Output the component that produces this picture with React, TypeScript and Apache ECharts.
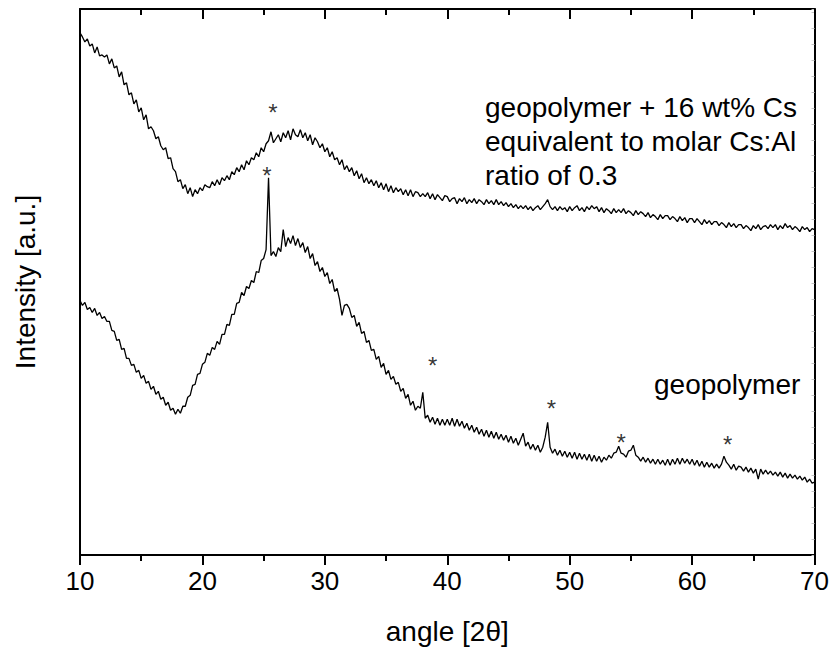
import React, { useEffect, useRef } from "react";
import * as echarts from "echarts";

// XRD scans sampled on a regular 2θ grid
const angleStart = 10;
const angleStep = 0.2;
const xMin = 10;
const xMax = 70;
const xInterval = 10;

// geopolymer + 16 wt% Cs (upper trace)
const cesiumIntensity = [
  523, 519, 514, 517, 510, 512, 503, 509, 500, 501,
  499, 501, 492, 497, 488, 490, 479, 484, 471, 473,
  461, 463, 452, 456, 444, 448, 436, 441, 427, 429,
  425, 417, 419, 410, 406, 408, 397, 398, 387, 384,
  374, 376, 367, 371, 362, 368, 359, 366, 362, 368,
  365, 371, 369, 368, 374, 370, 376, 371, 378, 375,
  380, 376, 384, 381, 388, 384, 391, 386, 395, 391,
  398, 396, 403, 399, 408, 404, 412, 415, 424, 413,
  417, 421, 414, 423, 418, 425, 416, 427, 421, 419,
  426, 418, 423, 415, 421, 411, 418, 414, 408, 412,
  404, 408, 399, 404, 396, 398, 391, 396, 386, 390,
  384, 388, 380, 385, 377, 382, 373, 378, 372, 376,
  370, 375, 368, 373, 366, 372, 364, 370, 363, 368,
  364, 367, 361, 366, 360, 366, 359, 364, 363, 359,
  362, 359, 363, 357, 362, 356, 361, 358, 355, 360,
  359, 354, 357, 358, 352, 357, 354, 358, 352, 356,
  353, 357, 352, 356, 354, 351, 356, 352, 355, 351,
  356, 351, 354, 350, 353, 349, 352, 348, 351, 347,
  350, 347, 350, 346, 349, 345, 348, 350, 346, 349,
  352, 356, 349, 346, 349, 345, 349, 346, 348, 344,
  349, 345, 348, 350, 345, 348, 344, 349, 346, 350,
  347, 349, 344, 348, 343, 347, 345, 342, 347, 343,
  346, 343, 347, 342, 345, 343, 340, 345, 341, 344,
  342, 339, 343, 338, 341, 339, 336, 341, 337, 340,
  340, 336, 339, 337, 334, 339, 335, 338, 333, 337,
  337, 333, 337, 334, 331, 336, 332, 335, 331, 334,
  334, 330, 333, 331, 328, 333, 329, 332, 328, 331,
  331, 327, 330, 328, 325, 330, 327, 331, 326, 329,
  330, 327, 331, 328, 331, 326, 330, 327, 332, 328,
  330, 326, 329, 327, 324, 329, 326, 328, 324, 327,
  326,
];

// plain geopolymer (lower trace)
const plainIntensity = [
  255, 250, 253, 246, 248, 243, 247, 240, 243, 237,
  239, 234, 234, 225, 224, 215, 216, 206, 207, 197,
  197, 190, 191, 183, 185, 177, 180, 172, 174, 166,
  169, 161, 164, 156, 158, 150, 153, 145, 147, 141,
  146, 142, 149, 149, 158, 160, 170, 171, 181, 182,
  191, 193, 202, 200, 208, 206, 214, 211, 221, 221,
  231, 230, 241, 241, 252, 253, 263, 260, 269, 267,
  275, 273, 284, 283, 295, 297, 306, 378, 300, 304,
  299, 308, 304, 326, 309, 318, 312, 320, 310, 317,
  308, 313, 303, 309, 297, 302, 290, 294, 284, 288,
  279, 283, 272, 276, 264, 267, 256, 240, 250, 251,
  247, 238, 240, 229, 233, 222, 224, 213, 215, 205,
  206, 196, 199, 188, 192, 181, 185, 176, 179, 171,
  173, 164, 167, 157, 161, 150, 154, 145, 149, 147,
  163, 137, 140, 133, 138, 131, 137, 130, 136, 130,
  136, 130, 137, 129, 136, 129, 134, 127, 132, 125,
  130, 123, 128, 121, 126, 119, 125, 118, 124, 117,
  123, 116, 121, 115, 120, 113, 119, 112, 117, 110,
  116, 122, 109, 113, 106, 111, 105, 110, 103, 108,
  118, 133, 108, 102, 106, 100, 105, 99, 104, 98,
  103, 97, 103, 96, 102, 96, 101, 95, 101, 94,
  100, 94, 99, 93, 98, 95, 100, 97, 102, 103,
  109, 102, 101, 98, 104, 105, 110, 100, 98, 94,
  98, 93, 97, 92, 96, 91, 96, 91, 95, 90,
  96, 90, 96, 91, 97, 91, 97, 92, 96, 91,
  96, 90, 95, 89, 94, 88, 93, 88, 92, 87,
  91, 87, 91, 99, 93, 90, 86, 91, 85, 89,
  88, 84, 88, 83, 87, 82, 86, 76, 86, 81,
  85, 81, 84, 80, 83, 79, 83, 78, 82, 77,
  81, 77, 80, 76, 79, 75, 78, 73, 76, 72,
  73,
];

// asterisks marking crystalline reflections: [angle, intensity]
const peakMarks: [number, number][] = [
  [25.76, 449],
  [25.27, 386],
  [38.8, 196],
  [48.5, 153],
  [54.2, 119],
  [62.9, 117],
];

const cesiumLabel = ["geopolymer + 16 wt% Cs", "equivalent to molar Cs:Al", "ratio of 0.3"];
const plainLabel = "geopolymer";
const xAxisTitle = "angle [2θ]";
const yAxisTitle = "Intensity [a.u.]";

const FONT = "'Liberation Sans', Arial, Helvetica, sans-serif";

function toPairs(values: number[]) {
  return values.map((v, i) => [Math.round((angleStart + i * angleStep) * 10) / 10, v]);
}

export default function App() {
  const ref = useRef<HTMLDivElement>(null);

  useEffect(() => {
    document.body.style.margin = "0";
    if (!ref.current) return;
    const chart = echarts.init(ref.current, undefined, { renderer: "svg" });
    const black = "#000";
    chart.setOption({
      animation: false,
      backgroundColor: "#fff",
      textStyle: { fontFamily: FONT, color: black },
      grid: { left: 80, top: 9, right: 17, bottom: 94, containLabel: false },
      xAxis: [
        {
          type: "value",
          position: "bottom",
          min: xMin,
          max: xMax,
          interval: xInterval,
          axisLine: { show: true, onZero: false, lineStyle: { color: black, width: 2 } },
          axisTick: { show: true, inside: false, length: 10, lineStyle: { color: black, width: 2 } },
          minorTick: { show: true, splitNumber: 2, length: 6, lineStyle: { color: black, width: 2 } },
          axisLabel: { fontSize: 26, color: black, margin: 13, fontFamily: FONT },
          splitLine: { show: false },
          name: xAxisTitle,
          nameLocation: "middle",
          nameGap: 62,
          nameTextStyle: { fontSize: 28, color: black, fontFamily: FONT },
        },
        {
          type: "value",
          position: "top",
          min: xMin,
          max: xMax,
          interval: xInterval,
          axisLine: { show: true, onZero: false, lineStyle: { color: black, width: 2 } },
          axisTick: { show: true, inside: true, length: 10, lineStyle: { color: black, width: 2 } },
          minorTick: { show: true, splitNumber: 2, length: 6, lineStyle: { color: black, width: 2 } },
          axisLabel: { show: false },
          splitLine: { show: false },
        },
      ],
      yAxis: [
        {
          type: "value",
          position: "left",
          min: 0,
          max: 547,
          axisLine: { show: true, onZero: false, lineStyle: { color: black, width: 2 } },
          axisTick: { show: false },
          axisLabel: { show: false },
          splitLine: { show: false },
          name: yAxisTitle,
          nameLocation: "middle",
          nameGap: 41,
          nameTextStyle: { fontSize: 28, color: black, fontFamily: FONT },
        },
        {
          type: "value",
          position: "right",
          min: 0,
          max: 547,
          interval: 16,
          axisLine: { show: true, onZero: false, lineStyle: { color: black, width: 2 } },
          axisTick: { show: true, inside: true, length: 3, lineStyle: { color: "#c4c4c4", width: 1 } },
          axisLabel: { show: false },
          splitLine: { show: false },
        },
      ],
      series: [
        {
          type: "line",
          name: "Cs",
          data: toPairs(cesiumIntensity),
          showSymbol: false,
          symbol: "none",
          lineStyle: { color: black, width: 1.3 },
          silent: true,
        },
        {
          type: "line",
          name: "plain",
          data: toPairs(plainIntensity),
          showSymbol: false,
          symbol: "none",
          lineStyle: { color: black, width: 1.3 },
          silent: true,
        },
        {
          type: "scatter",
          data: peakMarks,
          symbolSize: 1,
          itemStyle: { color: "rgba(0,0,0,0)" },
          label: {
            show: true,
            formatter: "*",
            position: "inside",
            fontSize: 24,
            color: black,
            fontFamily: FONT,
            offset: [0, 6],
          },
          silent: true,
        },
      ],
      graphic: [
        {
          type: "text",
          left: 485,
          top: 90,
          style: {
            text: cesiumLabel.join("\n"),
            fontSize: 28,
            lineHeight: 34,
            fill: black,
            fontFamily: FONT,
          },
        },
        {
          type: "text",
          left: 654,
          top: 367,
          style: {
            text: plainLabel,
            fontSize: 28,
            lineHeight: 34,
            fill: black,
            fontFamily: FONT,
          },
        },
      ],
    });
    return () => chart.dispose();
  }, []);

  return <div ref={ref} style={{ width: 832, height: 650 }} />;
}
